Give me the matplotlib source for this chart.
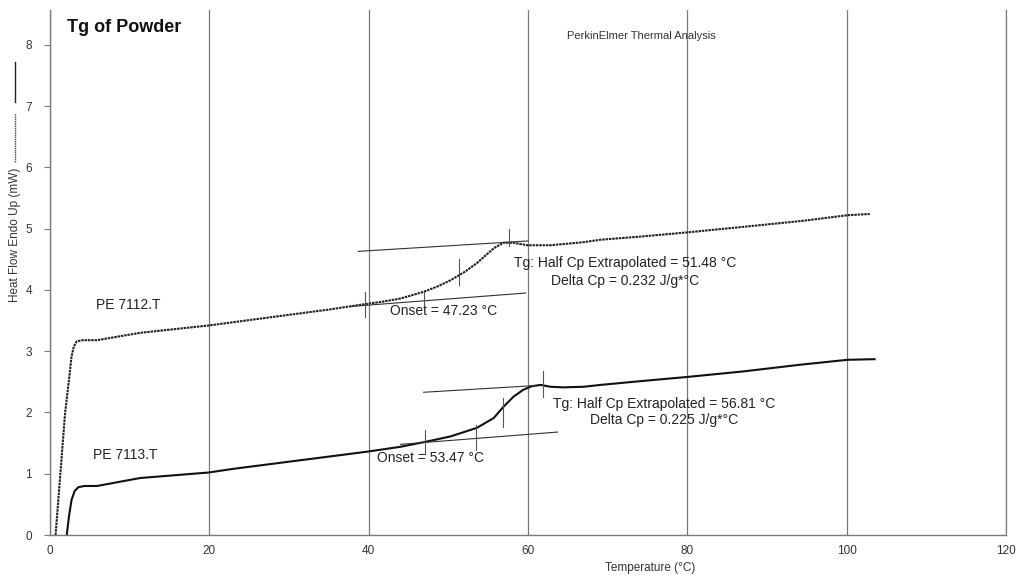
import matplotlib
matplotlib.use("Agg")
from matplotlib import pyplot as plt
from matplotlib.lines import Line2D

plt.rcParams['font.family'] = ['Liberation Sans', 'DejaVu Sans']

# PE 7112.T (dotted trace)
temp_7112 = [0.7, 1.3, 1.9, 2.4, 2.7, 3.0, 3.35, 4.0, 5.9, 11.3, 19.9, 28.0, 35.0, 39.6,
             41.8, 44.0, 46.9, 48.7, 50.3, 52.0, 53.6, 55.7, 56.9, 58.2, 59.9, 62.8, 67.0,
             69.1, 74.0, 80.0, 87.0, 94.6, 100.1, 102.9]
flow_7112 = [0.0, 1.0, 2.0, 2.55, 2.91, 3.08, 3.16, 3.18, 3.18, 3.30, 3.42, 3.56, 3.68, 3.77,
             3.81, 3.86, 3.97, 4.06, 4.16, 4.29, 4.44, 4.68, 4.77, 4.77, 4.73, 4.73, 4.78,
             4.82, 4.87, 4.94, 5.03, 5.13, 5.22, 5.24]

# PE 7113.T (solid trace)
temp_7113 = [2.1, 2.4, 2.7, 3.1, 3.56, 4.3, 5.9, 11.3, 19.9, 23.0, 30.2, 35.0, 39.8, 44.0,
             47.1, 50.3, 53.6, 55.7, 56.9, 58.2, 59.4, 60.5, 61.6, 62.8, 64.4, 67.0, 69.1,
             74.0, 80.0, 87.0, 94.2, 100.1, 103.5]
flow_7113 = [0.0, 0.32, 0.57, 0.72, 0.78, 0.80, 0.80, 0.93, 1.02, 1.08, 1.20, 1.28, 1.36, 1.44,
             1.52, 1.61, 1.75, 1.91, 2.09, 2.26, 2.37, 2.43, 2.45, 2.42, 2.41, 2.42, 2.45,
             2.51, 2.58, 2.67, 2.78, 2.86, 2.87]

# tangent lines ((x0, x1), (y0, y1))
tangents_7112 = [((38.7, 60.0), (4.63, 4.80)), ((37.7, 59.7), (3.73, 3.95))]
tangents_7113 = [((46.9, 61.0), (2.33, 2.44)), ((44.0, 63.7), (1.48, 1.68))]

# vertical markers (x, ylow, yhigh)
marks_7112 = [(39.6, 3.56, 3.97), (47.0, 3.76, 3.97), (51.3, 4.08, 4.50), (57.6, 4.72, 5.0)]
marks_7113 = [(47.1, 1.33, 1.71), (53.5, 1.39, 1.80), (56.9, 1.77, 2.23), (61.9, 2.26, 2.67)]

x_ticks = [0, 20, 40, 60, 80, 100, 120]
y_ticks = [0, 1, 2, 3, 4, 5, 6, 7, 8]

W, H = 1021, 577
fig = plt.figure(figsize=(W / 100, H / 100), dpi=100)
ax = fig.add_axes([50 / W, 1 - 535 / H, 956 / W, 525 / H])
ax.set_xlim(0, 120)
ax.set_ylim(0, 8.57)

grey = '#7a7a7a'
ax.set_xticks(x_ticks)
ax.set_yticks(y_ticks)
ax.grid(axis='x', color=grey, linewidth=0.9)
ax.tick_params(axis='x', length=0, pad=7, labelsize=8.5, colors='#333333')
ax.tick_params(axis='y', length=4, width=0.8, color=grey, pad=9, labelsize=8.5,
               labelcolor='#333333')
for side in ['top', 'right']:
    ax.spines[side].set_visible(False)
for side in ['left', 'bottom']:
    ax.spines[side].set_color(grey)
    ax.spines[side].set_linewidth(1.0)
ax.axvline(120, color=grey, linewidth=0.9, clip_on=False)

ax.plot(temp_7112, flow_7112, color='#222222', linewidth=1.5, linestyle=(0, (1.2, 0.4)))
ax.plot(temp_7113, flow_7113, color='#111111', linewidth=1.5)

for xs, ys in tangents_7112 + tangents_7113:
    ax.plot(xs, ys, color='#333333', linewidth=0.8)
for x, y0, y1 in marks_7112 + marks_7113:
    ax.plot([x, x], [y0, y1], color='#555555', linewidth=0.8)

txt = dict(fontsize=10, color='#222222')
ax.text(72.2, 4.44, 'Tg: Half Cp Extrapolated = 51.48 °C', ha='center', va='center', **txt)
ax.text(72.2, 4.15, 'Delta Cp = 0.232 J/g*°C', ha='center', va='center', **txt)
ax.text(42.7, 3.66, 'Onset = 47.23 °C', ha='left', va='center', **txt)
ax.text(77.1, 2.14, 'Tg: Half Cp Extrapolated = 56.81 °C', ha='center', va='center', **txt)
ax.text(77.1, 1.88, 'Delta Cp = 0.225 J/g*°C', ha='center', va='center', **txt)
ax.text(41.0, 1.25, 'Onset = 53.47 °C', ha='left', va='center', **txt)

ax.text(5.8, 3.755, 'PE 7112.T', ha='left', va='center', **txt)
ax.text(5.4, 1.31, 'PE 7113.T', ha='left', va='center', **txt)

fig.text(67 / W, 1 - 27 / H, 'Tg of Powder', ha='left', va='center', fontsize=13,
         fontweight='bold', color='#111111')
fig.text(641 / W, 1 - 36 / H, 'PerkinElmer Thermal Analysis', ha='center', va='center',
         fontsize=8, color='#333333')
fig.text(650 / W, 1 - 568 / H, 'Temperature (°C)', ha='center', va='center',
         fontsize=8.5, color='#333333')

# y label with line-style key
fig.text(15 / W, 1 - 235 / H, 'Heat Flow Endo Up (mW)', rotation=90, ha='center',
         va='center', fontsize=8.5, color='#333333')
fig.add_artist(Line2D([15 / W, 15 / W], [1 - 162 / H, 1 - 113 / H], color='#444444',
                      linewidth=1.0, linestyle=(0, (1, 0.6))))
fig.add_artist(Line2D([15 / W, 15 / W], [1 - 102 / H, 1 - 62 / H], color='#222222',
                      linewidth=1.0))

fig.savefig('out.png', dpi=100)
